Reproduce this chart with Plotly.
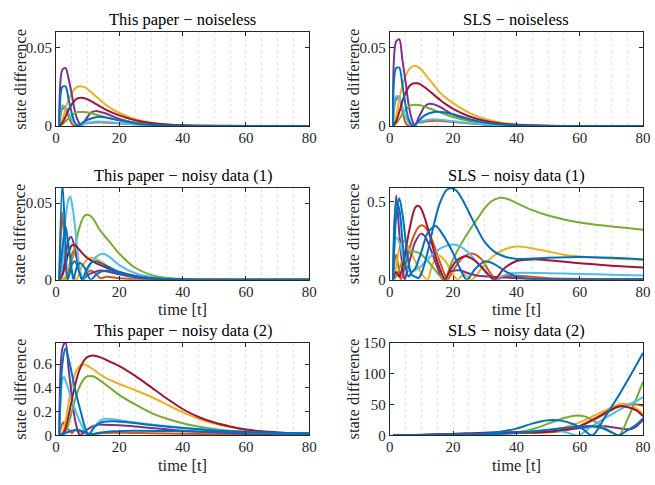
import plotly.graph_objects as go

# ---------------------------------------------------------------------------
# Series data: each entry is (time samples, state difference)
# ---------------------------------------------------------------------------

# This paper - noiseless
OURS_NOISELESS = {
    "orange": ([1, 2, 3, 4, 5, 6, 7, 9, 12, 15, 20, 30, 40, 80],
               [0, 0.011, 0.0115, 0.006, 0.0015, 0, 0.0005, 0.0015, 0.0022, 0.0023, 0.0017, 0.0005, 0, 0]),
    "yellow": ([1, 2, 3, 4, 5, 6, 7, 8, 9, 10, 12, 14, 16, 18, 20, 25, 30, 35, 40, 50, 80],
               [0, 0.004, 0.011, 0.017, 0.021, 0.024, 0.0252, 0.0253, 0.0248, 0.0235, 0.02, 0.0165,
                0.0132, 0.0105, 0.0083, 0.0043, 0.0021, 0.001, 0.0005, 0.0001, 0]),
    "purple": ([1, 2, 3, 4, 5, 6, 7, 8, 9, 10, 11, 12.5, 14, 16, 20, 25, 30, 40, 80],
               [0, 0.036, 0.037, 0.03, 0.02, 0.009, 0.003, 0, 0.003, 0.006, 0.0085, 0.0095, 0.009,
                0.0078, 0.0045, 0.002, 0.0008, 0.0001, 0]),
    "green": ([1, 2, 3, 4, 5, 6, 7, 8, 9, 10, 12, 14, 16, 20, 25, 30, 40, 80],
              [0, 0.001, 0.003, 0.005, 0.007, 0.0083, 0.0089, 0.009, 0.0089, 0.0086, 0.0077, 0.0066,
               0.0055, 0.0037, 0.002, 0.001, 0.0002, 0]),
    "lightblue": ([1, 2, 3, 4, 5, 6, 7, 8, 10, 13, 16, 20, 30, 40, 80],
                  [0, 0.013, 0.012, 0.008, 0.004, 0.0015, 0, 0.0008, 0.002, 0.0028, 0.0026, 0.0018,
                   0.0005, 0, 0]),
    "red": ([1, 2, 3, 4, 5, 6, 7, 8, 9, 10, 12, 14, 16, 18, 20, 25, 30, 35, 40, 50, 80],
            [0, 0.002, 0.006, 0.0105, 0.014, 0.0165, 0.0178, 0.018, 0.0177, 0.017, 0.0148, 0.0124,
             0.0102, 0.0084, 0.0068, 0.0037, 0.0019, 0.0009, 0.0004, 0.0001, 0]),
    "blue": ([1, 2, 3, 4, 5, 6, 7, 8, 10, 13, 16, 20, 25, 30, 40, 80],
             [0, 0.025, 0.0253, 0.017, 0.008, 0.002, 0, 0.0015, 0.004, 0.0058, 0.0053, 0.0036,
              0.0018, 0.0008, 0.0001, 0]),
}

# SLS - noiseless
SLS_NOISELESS = {
    "orange": ([1, 2, 3, 4, 5, 6, 7, 9, 12, 15, 20, 30, 40, 80],
               [0, 0.017, 0.018, 0.009, 0.002, 0, 0.0008, 0.002, 0.003, 0.0033, 0.0025, 0.0008, 0.0001, 0]),
    "yellow": ([1, 2, 3, 4, 5, 6, 7, 8, 9, 10, 12, 14, 16, 18, 20, 25, 30, 35, 40, 50, 80],
               [0, 0.006, 0.017, 0.026, 0.032, 0.036, 0.038, 0.0383, 0.0377, 0.036, 0.031, 0.026,
                0.021, 0.0175, 0.0146, 0.0085, 0.0045, 0.0022, 0.001, 0.0002, 0]),
    "purple": ([1, 2, 3, 4, 5, 6, 7, 8, 9, 10, 11, 12.5, 14, 16, 20, 25, 30, 40, 80],
               [0, 0.054, 0.0555, 0.042, 0.028, 0.013, 0.004, 0, 0.005, 0.009, 0.0125, 0.0142, 0.0138,
                0.012, 0.0072, 0.0035, 0.0016, 0.0003, 0]),
    "green": ([1, 2, 3, 4, 5, 6, 7, 8, 9, 10, 12, 14, 16, 20, 25, 30, 40, 80],
              [0, 0.0015, 0.0045, 0.0078, 0.0105, 0.0124, 0.0134, 0.0136, 0.0134, 0.013, 0.0117,
               0.0101, 0.0085, 0.0057, 0.0031, 0.0016, 0.0003, 0]),
    "lightblue": ([1, 2, 3, 4, 5, 6, 7, 8, 10, 13, 16, 20, 30, 40, 80],
                  [0, 0.019, 0.0185, 0.012, 0.006, 0.002, 0, 0.001, 0.003, 0.0042, 0.004, 0.003,
                   0.001, 0.0002, 0]),
    "red": ([1, 2, 3, 4, 5, 6, 7, 8, 9, 10, 12, 14, 16, 18, 20, 25, 30, 35, 40, 50, 80],
            [0, 0.003, 0.009, 0.016, 0.021, 0.025, 0.027, 0.0274, 0.0272, 0.0262, 0.0232, 0.0198,
             0.0165, 0.0135, 0.011, 0.0062, 0.0033, 0.0016, 0.0008, 0.0002, 0]),
    "blue": ([1, 2, 3, 4, 5, 6, 7, 7.5, 9, 11, 14, 17, 20, 25, 30, 40, 80],
             [0, 0.037, 0.0373, 0.026, 0.013, 0.004, 0.0005, 0, 0.003, 0.0068, 0.009, 0.0088,
              0.0075, 0.0045, 0.0022, 0.0004, 0]),
}

# This paper - noisy data (1)
OURS_NOISY1 = {
    "orange": ([1, 2, 3, 3.6, 4.5, 5.5, 6.5, 7.5, 8.2, 9.5, 11, 12.5, 14, 16, 20, 30, 80],
               [0, 0.044, 0.01, 0, 0.012, 0.019, 0.014, 0.004, 0, 0.004, 0.006, 0.004, 0.001, 0.002,
                0.001, 0, 0]),
    "yellow": ([1, 3, 4, 5, 6, 6.5, 8, 10, 12, 14, 16, 20, 25, 30, 40, 80],
               [0, 0.002, 0.005, 0.004, 0.001, 0, 0.008, 0.0135, 0.014, 0.012, 0.0092, 0.0048,
                0.0019, 0.0006, 0, 0]),
    "purple": ([1, 2, 3, 4, 4.8, 6, 7, 8, 8.5, 10, 12, 14, 17, 20, 25, 30, 40, 80],
               [0, 0.004, 0.015, 0.026, 0.028, 0.02, 0.01, 0.002, 0, 0.003, 0.005, 0.006, 0.005,
                0.0035, 0.0015, 0.0005, 0, 0]),
    "green": ([1, 3, 4, 5, 6, 7, 8, 9, 10, 11, 12, 14, 16, 18, 20, 25, 30, 35, 40, 50, 80],
              [0, 0.0005, 0.004, 0.012, 0.022, 0.031, 0.038, 0.0418, 0.0425, 0.0415, 0.039, 0.032,
               0.027, 0.022, 0.017, 0.0078, 0.0032, 0.0013, 0.0005, 0.0001, 0]),
    "lightblue": ([1, 2, 3, 4, 4.5, 5, 6, 7, 8, 8.5, 10, 12, 14, 15, 17, 20, 25, 30, 40, 80],
                  [0, 0.01, 0.04, 0.053, 0.054, 0.05, 0.035, 0.014, 0.002, 0, 0.007, 0.0135, 0.0167,
                   0.017, 0.0148, 0.0095, 0.0042, 0.0018, 0.0002, 0]),
    "red": ([1, 2, 3, 4, 5, 6, 7, 8, 10, 12, 14, 16, 20, 25, 30, 40, 80],
            [0, 0.003, 0.01, 0.018, 0.0225, 0.0225, 0.0205, 0.018, 0.014, 0.0115, 0.0095, 0.0078,
             0.005, 0.0025, 0.001, 0.0001, 0]),
    "blue2": ([1, 2, 3, 4, 5, 5.5, 6.5, 7.5, 9, 10, 11, 13, 16, 20, 30, 80],
              [0, 0.02, 0.035, 0.022, 0.006, 0, 0.008, 0.011, 0.008, 0.003, 0, 0.004, 0.006, 0.004,
               0.001, 0]),
    "blue": ([1, 2, 3, 3.7, 5, 6, 7, 8, 8.3, 9.5, 11, 12.5, 14, 17, 20, 25, 30, 40, 80],
             [0, 0.063, 0.025, 0, 0.01, 0.012, 0.007, 0.001, 0, 0.006, 0.011, 0.012, 0.011, 0.008,
              0.005, 0.0022, 0.001, 0.0001, 0]),
}

# SLS - noisy data (1)
SLS_NOISY1 = {
    "orange": ([1, 2, 3, 3.5, 5, 7, 9, 10, 11, 13, 15, 17, 18.2, 20, 23, 26, 29, 31.5, 33.5, 36, 40,
                50, 80],
               [0, 0.16, 0.05, 0, 0.1, 0.25, 0.335, 0.348, 0.34, 0.27, 0.16, 0.05, 0, 0.06, 0.14,
                0.168, 0.13, 0.05, 0, 0.02, 0.025, 0.01, 0.005]),
    "yellow": ([1, 2, 3, 4, 5, 6, 8, 10, 11.9, 13.5, 15.5, 17.5, 19.5, 21.3, 23.5, 25.9, 30, 34, 37,
                40, 44, 50, 55, 60, 70, 80],
               [0, 0.08, 0.2, 0.25, 0.24, 0.2, 0.12, 0.04, 0, 0.1, 0.155, 0.12, 0.05, 0, 0.035, 0,
                0.1, 0.17, 0.2, 0.212, 0.205, 0.18, 0.16, 0.148, 0.135, 0.128]),
    "purple": ([1, 2, 3, 4, 4.7, 6, 8, 9.8, 11, 13, 15, 16.8, 19, 22, 25, 28, 32, 40, 50, 80],
               [0, 0.54, 0.3, 0.08, 0, 0.1, 0.24, 0.293, 0.28, 0.19, 0.08, 0, 0.05, 0.06, 0.04,
                0.025, 0.02, 0.01, 0.003, 0]),
    "green": ([1, 2, 3, 4, 6, 7.8, 10, 12, 14, 16, 17.2, 19.7, 22, 25, 28, 30, 32, 34.7, 37, 40, 45,
               50, 55, 60, 65, 70, 75, 80],
              [0, 0.02, 0.07, 0.12, 0.17, 0.18, 0.16, 0.12, 0.07, 0.02, 0, 0.117, 0.21, 0.31, 0.4,
               0.457, 0.5, 0.523, 0.518, 0.49, 0.445, 0.41, 0.385, 0.365, 0.352, 0.34, 0.33, 0.319]),
    "lightblue": ([1, 2, 3, 4, 5, 6, 7, 8, 10, 12, 14, 16, 18, 20, 22, 25, 28, 31, 33, 35, 38, 42,
                   50, 60, 70, 80],
                  [0, 0.27, 0.24, 0.16, 0.09, 0.055, 0.05, 0.06, 0.09, 0.13, 0.17, 0.2, 0.218, 0.225,
                   0.215, 0.17, 0.1, 0.03, 0, 0.02, 0.04, 0.045, 0.042, 0.037, 0.032, 0.027]),
    "red": ([1, 2, 3, 4, 6, 8, 9, 10, 12, 14, 16, 17.5, 19, 21, 24, 27, 30, 33, 36, 40, 45, 50, 60,
             70, 80],
            [0, 0.05, 0.02, 0.08, 0.3, 0.46, 0.472, 0.45, 0.33, 0.18, 0.06, 0, 0.06, 0.12, 0.15,
             0.12, 0.06, 0, 0.07, 0.12, 0.13, 0.125, 0.105, 0.09, 0.078]),
    "blue2": ([1, 2, 3, 4, 5, 6, 7, 8, 10, 12, 14.5, 17, 20, 22, 24.3, 27, 30, 33, 36, 40, 45, 80],
              [0, 0.5, 0.45, 0.25, 0.08, 0.02, 0.05, 0.07, 0.18, 0.3, 0.344, 0.28, 0.17, 0.08, 0,
               0.07, 0.117, 0.1, 0.06, 0.02, 0.005, 0.005]),
    "blue": ([1, 2, 3, 4, 5, 6, 7, 8, 9, 10, 12, 14, 16, 18, 19.5, 21, 23, 25, 28, 30, 33, 36, 40,
              45, 50, 60, 70, 80],
             [0, 0.4, 0.52, 0.42, 0.25, 0.1, 0.03, 0.02, 0.01, 0.04, 0.18, 0.36, 0.5, 0.575, 0.585,
              0.57, 0.51, 0.43, 0.31, 0.24, 0.18, 0.15, 0.133, 0.135, 0.14, 0.145, 0.14, 0.13]),
}

# This paper - noisy data (2)
OURS_NOISY2 = {
    "orange": ([1, 2, 2.5, 3, 4, 5, 6, 7, 8, 9, 10, 12, 15, 20, 30, 40, 60, 80],
               [0, 0.1, 0.11, 0.06, 0.05, 0.02, 0.045, 0.035, 0.03, 0.02, 0.005, 0.01, 0.02, 0.022,
                0.018, 0.014, 0.008, 0.006]),
    "yellow": ([1, 2, 3, 4, 5, 6, 7, 8, 9, 10, 12, 14, 16, 18, 20, 25, 30, 35, 40, 45, 50, 55, 60,
                65, 70, 80],
               [0, 0.02, 0.12, 0.28, 0.42, 0.52, 0.57, 0.592, 0.596, 0.585, 0.55, 0.51, 0.48, 0.455,
                0.432, 0.38, 0.325, 0.26, 0.195, 0.14, 0.1, 0.07, 0.045, 0.03, 0.022, 0.015]),
    "purple": ([1, 2, 3, 4, 5, 6, 7, 7.5, 9, 11, 13, 15, 20, 25, 30, 40, 50, 60, 70, 80],
               [0, 0.73, 0.785, 0.55, 0.33, 0.13, 0.03, 0, 0.03, 0.07, 0.09, 0.09, 0.085, 0.075,
                0.062, 0.04, 0.025, 0.015, 0.01, 0.007]),
    "green": ([1, 2, 3, 4, 5, 6, 7, 8, 9, 10, 11, 12, 14, 16, 18, 20, 25, 30, 35, 40, 45, 50, 55,
               60, 70, 80],
              [0, 0, 0.03, 0.1, 0.2, 0.3, 0.38, 0.44, 0.48, 0.497, 0.5, 0.495, 0.46, 0.42, 0.38,
               0.338, 0.26, 0.19, 0.14, 0.103, 0.075, 0.054, 0.038, 0.027, 0.018, 0.012]),
    "lightblue": ([1, 2, 2.5, 3, 4, 5, 6, 7, 8, 9, 10, 10.5, 12, 14, 15.5, 18, 22, 26, 30, 40, 50,
                   60, 70, 80],
                  [0, 0.47, 0.49, 0.46, 0.38, 0.3, 0.22, 0.15, 0.09, 0.04, 0.005, 0, 0.07, 0.125,
                   0.14, 0.135, 0.12, 0.105, 0.092, 0.065, 0.045, 0.032, 0.022, 0.016]),
    "red": ([1, 2, 3, 4, 5, 6, 7, 8, 9, 10, 11.5, 13, 15, 17, 20, 25, 30, 35, 40, 45, 50, 55, 60,
             65, 70, 75, 80],
            [0, 0.01, 0.06, 0.17, 0.3, 0.42, 0.52, 0.59, 0.635, 0.66, 0.672, 0.665, 0.645, 0.62,
             0.582, 0.5, 0.406, 0.31, 0.222, 0.155, 0.108, 0.075, 0.05, 0.035, 0.025, 0.018, 0.012]),
    "blue2": ([1, 3, 5, 7, 9, 11, 13, 18, 25, 40, 60, 80],
              [0, 0.02, 0.04, 0.045, 0.03, 0.01, 0.02, 0.035, 0.04, 0.035, 0.025, 0.018]),
    "blue": ([1, 2, 3, 4, 5, 6, 7, 8, 9, 10, 10.5, 11.5, 13, 15, 18, 22, 26, 30, 40, 50, 60, 70, 80],
             [0, 0.6, 0.73, 0.64, 0.52, 0.39, 0.28, 0.18, 0.08, 0.01, 0, 0.05, 0.09, 0.115, 0.12,
              0.112, 0.1, 0.088, 0.062, 0.042, 0.03, 0.02, 0.015]),
}

# SLS - noisy data (2)
SLS_NOISY2 = {
    "purple": ([1, 10, 20, 30, 40, 50, 55, 60, 65, 68, 72, 76, 78, 80],
               [0, 0.5, 1.5, 2.5, 4, 6, 8, 12, 15, 15, 12, 10, 15, 25]),
    "orange": ([1, 10, 20, 30, 40, 45, 50, 55, 60, 64, 68, 72, 75.7, 78, 80],
               [0, 0.5, 1.5, 3, 4, 4, 5, 8, 15, 24, 35, 46, 50.5, 50, 48]),
    "yellow": ([1, 20, 30, 40, 50, 55, 60, 65, 70, 73, 76, 78, 80],
               [0, 1.5, 3, 5, 8, 13, 21, 33, 45, 51, 49, 43, 35]),
    "green": ([1, 20, 30, 35, 40, 45, 50, 55, 59, 62, 65, 68, 71, 72.5, 75, 77.5, 80],
              [0, 1, 2, 3, 5, 10, 19, 28, 32.3, 30, 22, 12, 3, 0, 25, 55, 87]),
    "lightblue": ([1, 20, 30, 40, 45, 50, 55, 59.6, 63, 67, 71, 75, 78, 80],
                  [0, 1, 2, 5, 7, 8, 6, 0, 12, 25, 37, 48, 56, 62]),
    "red": ([1, 10, 20, 30, 40, 45, 50, 55, 60, 65, 70, 72.5, 75, 78, 80],
            [0, 1, 2.5, 4.5, 5, 5, 6, 9, 15, 28, 42, 47, 46, 40, 31]),
    "blue2": ([1, 20, 30, 40, 50, 55, 60, 64, 67, 70, 72.3, 75, 78, 80],
              [0, 1, 2, 4, 9, 12, 14.5, 15, 12, 5, 0, 8, 18, 28]),
    "blue": ([1, 10, 20, 30, 35, 40, 45, 50, 54, 58, 61, 64, 68, 72, 76, 80],
             [0, 0.5, 1.5, 3, 6, 11, 19, 24.5, 24, 18, 10, 0, 30, 62, 97, 133]),
}

TITLES = [
    "This paper − noiseless", "SLS − noiseless",
    "This paper − noisy data (1)", "SLS − noisy data (1)",
    "This paper − noisy data (2)", "SLS − noisy data (2)",
]
SERIES = [OURS_NOISELESS, SLS_NOISELESS, OURS_NOISY1, SLS_NOISY1, OURS_NOISY2, SLS_NOISY2]
Y_RANGES = [[0, 0.06], [0, 0.06], [0, 0.06], [0, 0.587], [0, 0.78], [0, 150]]
Y_TICKS = [[0, 0.05], [0, 0.05], [0, 0.05], [0, 0.5], [0, 0.2, 0.4, 0.6], [0, 50, 100, 150]]
Y_TICKTEXT = [["0", "0.05"], ["0", "0.05"], ["0", "0.05"], ["0", "0.5"],
              ["0", "0.2", "0.4", "0.6"], ["0", "50", "100", "150"]]
X_TICKS = [0, 20, 40, 60, 80]

# MATLAB default colour order
COLORS = {
    "blue": "#0072BD", "orange": "#D95319", "yellow": "#EDB120", "purple": "#7E2F8E",
    "green": "#77AC30", "lightblue": "#4DBEEE", "red": "#A2142F",
}

# ---------------------------------------------------------------------------
# Layout geometry (pixels in a 655 x 485 canvas)
# ---------------------------------------------------------------------------
W, H = 655, 485
COL_PX = [(53, 311), (393, 651)]
ROW_PX = [(25, 122), (186, 281), (346, 442)]
FONT = "Liberation Serif, Times New Roman, serif"
INK = "#262626"


def px_x(x):
    return x / W


def px_y(y):
    return 1 - y / H


fig = go.Figure()
layout = dict(
    width=W, height=H, margin=dict(l=0, r=0, t=0, b=0),
    paper_bgcolor="white", plot_bgcolor="white", showlegend=False,
    font=dict(family=FONT, size=14, color=INK),
    annotations=[],
)

for i, series in enumerate(SERIES):
    n = i + 1
    row, col = divmod(i, 2)
    x0, x1 = COL_PX[col]
    top, bottom = ROW_PX[row]
    suffix = "" if n == 1 else str(n)

    for key, (t, v) in series.items():
        fig.add_trace(go.Scatter(
            x=t, y=v, mode="lines",
            line=dict(color=COLORS[key.rstrip("2")], width=2, shape="spline", smoothing=0.8),
            xaxis="x" + suffix, yaxis="y" + suffix, hoverinfo="skip",
        ))

    layout["xaxis" + suffix] = dict(
        domain=[px_x(x0), px_x(x1)], anchor="y" + suffix, range=[0, 80],
        tickvals=X_TICKS, ticks="inside", ticklen=4, tickcolor=INK,
        showline=True, linecolor=INK, linewidth=1, mirror="ticks",
        showgrid=False, zeroline=False, ticklabelstandoff=-2,
        minor=dict(dtick=5, tick0=0, showgrid=True, gridcolor="#e4e4e4",
                   griddash="dot", gridwidth=1, ticks=""),
        tickfont=dict(family=FONT, size=15, color=INK),
    )
    layout["yaxis" + suffix] = dict(
        domain=[px_y(bottom), px_y(top)], anchor="x" + suffix, range=Y_RANGES[i],
        tickvals=Y_TICKS[i], ticktext=Y_TICKTEXT[i], ticks="inside", ticklen=4, tickcolor=INK,
        showline=True, linecolor=INK, linewidth=1, mirror="ticks",
        showgrid=False, zeroline=False,
        tickfont=dict(family=FONT, size=15, color=INK),
    )

    cx = (x0 + x1) / 2
    cy = (top + bottom) / 2
    layout["annotations"].append(dict(
        text=TITLES[i], x=px_x(cx), y=px_y(top - 13), xref="paper", yref="paper",
        xanchor="center", yanchor="middle", showarrow=False,
        font=dict(family=FONT, size=16.5, color="black"),
    ))
    layout["annotations"].append(dict(
        text="state difference", x=px_x(x0 - 37), y=px_y(cy), xref="paper", yref="paper",
        xanchor="center", yanchor="middle", textangle=-90, showarrow=False,
        font=dict(family=FONT, size=16.5, color=INK),
    ))
    if row > 0:
        layout["annotations"].append(dict(
            text="time [t]", x=px_x(cx), y=px_y(bottom + 31), xref="paper", yref="paper",
            xanchor="center", yanchor="middle", showarrow=False,
            font=dict(family=FONT, size=16.5, color=INK),
        ))

fig.update_layout(**layout)
fig.write_html("out.html")
